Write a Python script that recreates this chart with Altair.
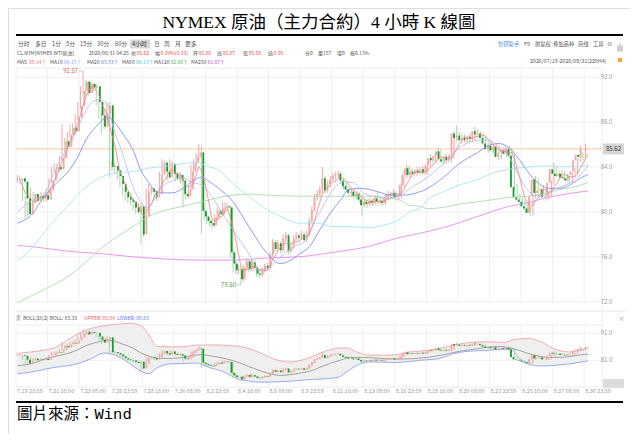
import altair as alt
import pandas as pd

# 4H candles of CL.NYM, 2026/07/19 - 2026/08/31
opens = [
    82.8, 83.0, 82.7, 81.2, 79.8, 80.8, 81.6, 81.0, 81.4, 81.2,
    81.5, 81.1, 81.9, 82.8, 83.7, 84.0, 83.8, 84.8, 86.3, 85.8,
    86.9, 87.5, 87.2, 88.4, 89.4, 90.8, 91.6, 90.6, 91.4, 91.1,
    91.2, 89.8, 88.6, 87.6, 88.8, 89.5, 84.0, 84.1, 83.7, 83.2,
    82.5, 81.8, 81.3, 81.1, 80.9, 80.4, 80.0, 80.5, 78.0, 79.6,
    81.8, 82.1, 81.8, 81.3, 81.6, 83.3, 84.4, 83.6, 83.1, 84.3,
    83.4, 83.0, 83.3, 82.8, 81.6, 81.4, 82.0, 83.6, 84.4, 84.9,
    85.3, 80.1, 79.6, 79.2, 79.0, 78.8, 79.5, 80.1, 79.8, 80.3,
    80.5, 80.4, 76.4, 75.4, 74.8, 74.9, 74.0, 75.0, 75.6, 74.9,
    75.5, 75.0, 74.5, 74.4, 74.8, 75.2, 75.0, 76.2, 77.3, 76.7,
    77.2, 76.6, 77.6, 77.9, 76.5, 76.9, 77.6, 77.9, 77.7, 78.0,
    77.5, 78.0, 79.2, 80.2, 81.3, 81.6, 82.0, 83.0, 81.9, 82.5,
    82.9, 83.2, 83.3, 83.4, 82.8, 82.3, 82.0, 81.7, 81.8, 81.4,
    81.6, 81.1, 80.6, 80.9, 80.7, 81.0, 80.8, 81.2, 80.9, 81.0,
    80.8, 81.3, 81.6, 81.5, 81.7, 81.3, 81.4, 82.4, 83.3, 83.9,
    83.3, 83.6, 83.4, 83.7, 83.5, 83.8, 83.5, 84.2, 84.8, 84.6,
    85.0, 85.4, 84.7, 84.5, 84.9, 84.6, 85.0, 87.0, 86.6, 86.8,
    86.4, 86.6, 86.4, 86.7, 86.5, 87.2, 86.9, 87.0, 86.6, 86.1,
    85.6, 85.9, 85.5, 85.8, 84.9, 85.3, 85.5, 85.2, 85.6, 85.0,
    82.2, 81.3, 81.1, 80.9, 80.5, 80.3, 79.9, 81.4, 82.9, 81.7,
    81.9, 82.0, 81.3, 81.4, 82.6, 83.8, 83.4, 83.2, 83.4, 83.1,
    83.0, 82.8, 83.3, 83.6, 84.6, 85.1, 84.9, 85.60,
]
highs = [
    83.3, 83.2, 82.9, 81.4, 81.0, 82.2, 81.8, 81.6, 81.6, 81.8,
    81.7, 82.1, 83.0, 84.0, 84.3, 84.3, 85.0, 87.8, 86.6, 87.1,
    87.8, 87.9, 88.7, 89.8, 91.2, 92.57, 91.8, 91.7, 91.6, 91.5,
    91.4, 90.0, 88.8, 89.2, 89.8, 89.8, 84.5, 84.4, 84.0, 83.4,
    82.7, 82.0, 81.6, 81.6, 81.2, 80.8, 80.8, 80.8, 79.9, 82.1,
    82.5, 82.3, 82.0, 81.9, 83.6, 84.7, 84.6, 83.8, 84.7, 84.5,
    83.6, 83.6, 83.5, 83.0, 81.9, 82.3, 84.2, 84.7, 85.2, 86.0,
    85.9, 80.4, 79.9, 79.5, 79.3, 79.8, 80.4, 80.3, 80.9, 80.9,
    80.8, 80.6, 76.6, 75.7, 75.3, 75.1, 75.3, 75.9, 75.8, 75.8,
    75.7, 75.2, 74.8, 75.1, 75.4, 75.5, 76.4, 77.6, 77.5, 77.5,
    77.4, 78.0, 78.2, 78.1, 77.3, 77.9, 78.2, 78.1, 78.3, 78.2,
    78.3, 79.5, 80.5, 81.6, 81.9, 82.3, 84.0, 83.2, 82.8, 83.2,
    83.5, 83.6, 83.7, 83.6, 83.0, 82.6, 82.2, 82.1, 82.0, 81.9,
    81.8, 81.6, 81.2, 81.1, 81.3, 81.2, 81.5, 81.8, 81.4, 81.3,
    81.6, 81.9, 81.8, 82.0, 81.9, 81.7, 82.6, 83.6, 84.2, 84.1,
    83.9, 83.8, 84.0, 84.0, 84.1, 84.0, 84.4, 85.1, 85.0, 85.3,
    85.7, 85.6, 85.0, 85.2, 85.1, 85.3, 87.2, 87.7, 87.1, 87.0,
    86.9, 86.8, 87.0, 86.9, 87.6, 87.4, 87.2, 87.1, 86.8, 86.3,
    86.2, 86.0, 86.1, 85.9, 85.5, 85.8, 85.7, 85.9, 85.7, 85.2,
    82.5, 81.6, 81.3, 81.1, 80.7, 80.5, 81.6, 83.2, 83.0, 82.2,
    82.3, 82.1, 81.7, 82.8, 84.4, 84.0, 83.6, 83.7, 83.6, 83.4,
    83.2, 83.5, 83.9, 84.8, 85.9, 85.3, 86.1, 85.67,
]
lows = [
    82.6, 82.5, 81.0, 79.4, 79.6, 80.6, 80.8, 80.8, 80.9, 81.0,
    80.9, 80.9, 81.7, 82.6, 83.5, 83.5, 83.6, 84.6, 85.3, 85.6,
    86.6, 86.9, 87.0, 88.2, 89.2, 90.5, 90.3, 90.4, 90.8, 90.8,
    89.5, 88.3, 87.0, 87.4, 88.5, 83.1, 83.7, 83.4, 82.9, 82.2,
    81.5, 81.0, 80.8, 80.6, 80.1, 79.8, 79.8, 77.1, 77.8, 79.4,
    81.5, 81.5, 81.0, 81.0, 81.4, 83.1, 83.3, 82.8, 82.9, 83.1,
    82.7, 82.8, 82.5, 80.4, 81.1, 81.2, 81.8, 83.4, 84.1, 84.6,
    78.1, 79.3, 78.9, 78.7, 78.5, 78.6, 79.3, 79.5, 79.6, 80.0,
    80.1, 75.9, 74.6, 74.5, 74.4, 73.5, 73.8, 74.8, 74.6, 74.7,
    74.7, 74.2, 74.1, 74.2, 74.6, 74.8, 74.9, 76.0, 76.4, 76.5,
    76.3, 76.4, 77.3, 76.2, 76.3, 76.7, 77.4, 77.4, 77.5, 77.3,
    77.3, 77.8, 79.0, 80.0, 81.0, 81.3, 81.7, 81.6, 81.7, 82.2,
    82.7, 82.9, 83.0, 82.5, 82.0, 81.7, 81.4, 81.4, 81.1, 81.2,
    80.9, 79.7, 80.4, 80.4, 80.5, 80.5, 80.6, 80.7, 80.6, 80.5,
    80.6, 81.1, 81.2, 81.3, 81.1, 81.0, 81.2, 82.2, 83.0, 83.1,
    83.1, 83.2, 83.2, 83.3, 83.3, 83.3, 83.3, 84.0, 84.3, 84.4,
    84.8, 84.4, 84.2, 84.3, 84.4, 84.4, 84.8, 86.3, 86.3, 86.1,
    86.2, 86.1, 86.2, 86.2, 86.3, 86.6, 86.7, 86.4, 85.9, 85.3,
    85.4, 85.2, 85.3, 84.6, 84.7, 85.1, 84.9, 85.0, 84.8, 82.0,
    81.0, 80.8, 80.6, 80.2, 80.0, 79.6, 79.7, 81.2, 81.4, 81.5,
    81.6, 81.0, 81.1, 81.3, 82.4, 83.1, 82.9, 83.0, 82.9, 82.7,
    82.5, 82.6, 83.1, 83.4, 84.4, 84.6, 84.8, 85.56,
]
closes = [
    83.0, 82.7, 81.2, 79.8, 80.8, 81.6, 81.0, 81.4, 81.2, 81.5,
    81.1, 81.9, 82.8, 83.7, 84.0, 83.8, 84.8, 86.3, 85.8, 86.9,
    87.5, 87.2, 88.4, 89.4, 90.8, 91.6, 90.6, 91.4, 91.1, 91.2,
    89.8, 88.6, 87.6, 88.8, 89.5, 84.0, 84.1, 83.7, 83.2, 82.5,
    81.8, 81.3, 81.1, 80.9, 80.4, 80.0, 80.5, 78.0, 79.6, 81.8,
    82.1, 81.8, 81.3, 81.6, 83.3, 84.4, 83.6, 83.1, 84.3, 83.4,
    83.0, 83.3, 82.8, 81.6, 81.4, 82.0, 83.6, 84.4, 84.9, 85.3,
    80.1, 79.6, 79.2, 79.0, 78.8, 79.5, 80.1, 79.8, 80.3, 80.5,
    80.4, 76.4, 75.4, 74.8, 74.9, 74.0, 75.0, 75.6, 74.9, 75.5,
    75.0, 74.5, 74.4, 74.8, 75.2, 75.0, 76.2, 77.3, 76.7, 77.2,
    76.6, 77.6, 77.9, 76.5, 76.9, 77.6, 77.9, 77.7, 78.0, 77.5,
    78.0, 79.2, 80.2, 81.3, 81.6, 82.0, 83.0, 81.9, 82.5, 82.9,
    83.2, 83.3, 83.4, 82.8, 82.3, 82.0, 81.7, 81.8, 81.4, 81.6,
    81.1, 80.6, 80.9, 80.7, 81.0, 80.8, 81.2, 80.9, 81.0, 80.8,
    81.3, 81.6, 81.5, 81.7, 81.3, 81.4, 82.4, 83.3, 83.9, 83.3,
    83.6, 83.4, 83.7, 83.5, 83.8, 83.5, 84.2, 84.8, 84.6, 85.0,
    85.4, 84.7, 84.5, 84.9, 84.6, 85.0, 87.0, 86.6, 86.8, 86.4,
    86.6, 86.4, 86.7, 86.5, 87.2, 86.9, 87.0, 86.6, 86.1, 85.6,
    85.9, 85.5, 85.8, 84.9, 85.3, 85.5, 85.2, 85.6, 85.0, 82.2,
    81.3, 81.1, 80.9, 80.5, 80.3, 79.9, 81.4, 82.9, 81.7, 81.9,
    82.0, 81.3, 81.4, 82.6, 83.8, 83.4, 83.2, 83.4, 83.1, 83.0,
    82.8, 83.3, 83.6, 84.6, 85.1, 84.9, 85.6, 85.62,
]

tick_idx = [0, 12, 24, 36, 48, 60, 72, 84, 96, 108, 120, 132, 144, 156, 168, 180, 192, 204, 216]
tick_labels = ["7.19 23:59", "7.21 16:00", "7.23 08:00", "7.26 23:59", "7.28 16:00",
               "7.30 08:00", "8.2 23:59", "8.4 16:00", "8.6 08:00", "8.9 23:59",
               "8.11 16:00", "8.13 08:00", "8.16 23:59", "8.18 16:00", "8.20 08:00",
               "8.23 23:59", "8.25 16:00", "8.27 08:00", "8.30 23:59"]

# moving averages, sampled along the lines (bar number, value)
ma10_idx = [0, 6, 10, 14, 17, 21, 25, 28, 31, 34, 36, 40, 44, 47, 49, 52, 55, 59, 63, 67,
            70, 73, 76, 82, 88, 92, 96, 100, 105, 109, 112, 116, 120, 124, 128, 131, 135, 141, 145, 150,
            156, 162, 168, 175, 179, 183, 187, 191, 195, 199, 202, 206, 210, 214, 217]
ma10_val = [80.0, 81.1, 81.5, 83.5, 84.9, 86.4, 88.5, 89.7, 90.0, 89.7, 87.9, 85.2, 82.2, 80.9, 80.4, 81.1, 82.2, 82.8, 83.0, 82.6,
            82.4, 81.7, 80.6, 78.4, 76.3, 74.8, 75.1, 76.0, 76.9, 77.3, 78.7, 80.4, 82.0, 82.7, 82.6, 81.8, 81.4, 81.2, 81.4, 82.2,
            83.1, 84.3, 85.7, 86.4, 86.4, 85.8, 84.9, 83.1, 81.7, 81.4, 81.8, 82.2, 82.6, 83.3, 84.15]
ma20_idx = [0, 6, 10, 15, 19, 23, 26, 30, 33, 35, 37, 40, 44, 47, 50, 53, 55, 59, 63, 67,
            70, 73, 76, 82, 88, 95, 100, 104, 107, 111, 115, 119, 123, 126, 131, 137, 142, 147, 153, 156,
            162, 168, 175, 180, 183, 187, 191, 195, 199, 202, 206, 210, 214, 217]
ma20_val = [79.0, 79.9, 81.3, 82.6, 83.5, 84.9, 86.4, 87.6, 88.3, 88.4, 88.0, 87.0, 85.5, 83.7, 82.6, 81.8, 81.7, 81.7, 82.1, 82.8,
            83.1, 82.7, 82.2, 80.9, 78.7, 76.3, 75.4, 75.7, 76.2, 76.9, 78.4, 79.9, 81.1, 82.0, 82.1, 81.8, 81.5, 81.5, 81.8, 82.1,
            83.1, 84.3, 85.3, 86.0, 86.1, 85.7, 84.6, 83.3, 82.4, 82.1, 82.1, 82.4, 83.0, 83.33]
ma60_idx = [0, 6, 12, 19, 25, 31, 38, 44, 50, 57, 63, 68, 73, 76, 82, 88, 95, 101, 107, 114,
            120, 126, 133, 139, 145, 149, 153, 156, 162, 168, 175, 181, 187, 194, 200, 206, 217]
ma60_val = [75.6, 76.9, 78.7, 80.5, 82.0, 83.0, 83.5, 83.6, 83.9, 84.1, 84.3, 84.4, 84.0, 83.8, 82.5, 81.4, 80.2, 79.5, 79.0, 79.0,
            78.7, 78.7, 78.6, 78.8, 79.3, 80.0, 80.3, 81.1, 81.8, 82.4, 82.9, 83.5, 83.8, 84.0, 84.1, 84.05, 84.13]
ma120_idx = [0, 6, 12, 19, 25, 31, 38, 44, 50, 57, 63, 70, 77, 82, 88, 95, 107, 120, 133, 145,
             149, 153, 156, 162, 168, 175, 181, 187, 194, 200, 206, 213, 217]
ma120_val = [71.9, 72.6, 73.3, 74.2, 75.3, 76.6, 77.8, 78.7, 79.6, 80.2, 80.5, 80.9, 81.3, 81.5, 81.6, 81.5, 81.4, 81.4, 81.4, 81.1,
             80.6, 80.5, 80.3, 80.4, 80.7, 80.9, 81.1, 81.3, 81.4, 81.6, 82.0, 82.3, 82.66]
ma250_idx = [0, 6, 19, 31, 44, 57, 70, 82, 95, 107, 120, 133, 145, 153, 162, 175, 187, 194, 200, 206, 217]
ma250_val = [77.0, 76.9, 76.5, 76.3, 76.0, 75.8, 75.7, 75.7, 75.9, 76.0, 76.4, 76.9, 77.7, 78.1, 78.6, 79.6, 80.5, 80.8, 81.2, 81.5, 81.87]

# BOLL(20,2) bands, sampled along the lines
boll_idx = [0, 5, 10, 15, 20, 24, 28, 33, 38, 43, 47, 50, 53, 58, 63, 68, 73, 78, 84, 88,
            93, 99, 104, 110, 116, 122, 125, 129, 134, 139, 144, 149, 153, 160, 166, 172, 179, 185, 188, 190,
            194, 199, 204, 210, 214, 217]
boll_upper = [83.5, 84.1, 84.7, 86.0, 89.1, 91.3, 92.8, 93.8, 94.3, 94.7, 93.8, 90.5, 86.2, 86.0, 86.0, 86.6, 86.7, 86.6, 86.2, 85.3,
              83.5, 81.0, 80.4, 81.6, 84.0, 85.5, 85.6, 84.1, 82.9, 82.9, 83.1, 84.1, 84.4, 85.3, 86.6, 87.6, 87.9, 87.6, 88.5, 88.8,
              89.1, 87.9, 85.3, 84.1, 84.7, 85.84]
boll_lower = [76.0, 76.6, 77.6, 78.5, 79.1, 80.1, 81.6, 83.7, 82.6, 79.6, 76.9, 76.0, 78.1, 79.7, 79.8, 80.0, 78.3, 76.9, 74.0, 73.3,
              72.9, 73.0, 73.3, 73.8, 74.1, 74.7, 76.6, 79.1, 80.4, 80.3, 80.2, 80.6, 81.0, 81.6, 83.5, 84.4, 84.7, 85.1, 85.0, 82.5,
              79.7, 78.9, 79.1, 79.7, 80.3, 80.83]

price_ticks = [92.0, 88.0, 84.0, 80.0, 76.0, 72.0]
boll_ticks = [91.0, 81.0]
last_price = 85.62
high_bar, high_price = 25, 92.57
low_bar, low_price = 85, 73.50

# ---------------- layout (page pixels, minus the 8px body margin) ----------------
M = 8
W, H = 637 - 2 * M, 442 - 2 * M
UI = "Noto Sans CJK SC"
GREY, LIGHT, RED = "#555555", "#9a9a9a", "#e8483f"
UP_BODY, UP_WICK = "#f5a6a6", "#ef8f8f"
DN_BODY, DN_WICK = "#17992b", "#8fd18f"

ys = alt.Scale(domain=[72, 92], range=[301.7 - M, 77.3 - M], nice=False, zero=False)
yb = alt.Scale(domain=[81, 91], range=[360.3 - M, 333.3 - M], nice=False, zero=False)


def xscale():
    return alt.Scale(domain=[0, 222], range=[16 - M, 600 - M], nice=False, zero=False)


one = pd.DataFrame({"a": [0]})

candles = pd.DataFrame({"i": range(len(closes)), "open": opens, "high": highs,
                        "low": lows, "close": closes})
candles["xc"] = candles["i"] + 0.5

ma_df = pd.concat([
    pd.DataFrame({"idx": ma250_idx, "val": ma250_val, "ma": "MA250"}),
    pd.DataFrame({"idx": ma120_idx, "val": ma120_val, "ma": "MA120"}),
    pd.DataFrame({"idx": ma60_idx, "val": ma60_val, "ma": "MA60"}),
    pd.DataFrame({"idx": ma20_idx, "val": ma20_val, "ma": "MA20"}),
    pd.DataFrame({"idx": ma10_idx, "val": ma10_val, "ma": "MA10"}),
])
ma_df["xc"] = ma_df["idx"] + 0.5
mid_df = pd.DataFrame({"xc": [v + 0.5 for v in ma20_idx], "val": ma20_val})
boll_df = pd.DataFrame({"xc": [v + 0.5 for v in boll_idx], "up": boll_upper, "lo": boll_lower})
ticks_df = pd.DataFrame({"idx": tick_idx, "lab": tick_labels})


def rule(x1, x2, y1, y2, color, w=1.0):
    return alt.Chart(one).mark_rule(color=color, strokeWidth=w).encode(
        x=alt.value(x1 - M), x2=alt.value(x2 - M), y=alt.value(y1 - M), y2=alt.value(y2 - M))


def box(x1, x2, y1, y2, color):
    return alt.Chart(one).mark_rect(color=color).encode(
        x=alt.value(x1 - M), x2=alt.value(x2 - M), y=alt.value(y1 - M), y2=alt.value(y2 - M))


def candle_layers(yscale):
    up = alt.datum.close >= alt.datum.open
    base = alt.Chart(candles).encode(x=alt.X("xc:Q", scale=xscale(), axis=None))
    wick = base.mark_rule(strokeWidth=0.8).encode(
        y=alt.Y("low:Q", scale=yscale, axis=None), y2="high:Q",
        color=alt.when(up).then(alt.value(UP_WICK)).otherwise(alt.value(DN_WICK)))
    body = base.mark_bar(width=1.8, orient="vertical").encode(
        y=alt.Y("open:Q", scale=yscale, axis=None), y2="close:Q",
        color=alt.when(up).then(alt.value(UP_BODY)).otherwise(alt.value(DN_BODY)))
    return [wick, body]


layers = []

# frames and grid
layers += [
    rule(16, 602, 68, 68, "#ececec"),
    rule(602, 602, 68, 387, "#ececec"),
    rule(16, 625, 311, 311, "#e4e4e4"),
    rule(16, 602, 325, 325, "#ececec"),
    rule(16, 602, 387, 387, "#ececec"),
]
layers.append(alt.Chart(pd.DataFrame({"p": price_ticks})).mark_rule(color="#efefef").encode(
    y=alt.Y("p:Q", scale=ys, axis=None), x=alt.value(16 - M), x2=alt.value(602 - M)))
layers.append(alt.Chart(pd.DataFrame({"p": boll_ticks})).mark_rule(color="#efefef").encode(
    y=alt.Y("p:Q", scale=yb, axis=None), x=alt.value(16 - M), x2=alt.value(602 - M)))
layers.append(alt.Chart(ticks_df).mark_rule(color="#efefef").encode(
    x=alt.X("idx:Q", scale=xscale(), axis=None), y=alt.value(68 - M), y2=alt.value(303 - M)))
layers.append(alt.Chart(ticks_df).mark_rule(color="#efefef").encode(
    x=alt.X("idx:Q", scale=xscale(), axis=None), y=alt.value(325 - M), y2=alt.value(387 - M)))

# current price line
layers.append(alt.Chart(pd.DataFrame({"p": [last_price]})).mark_rule(color="#f7c9a5").encode(
    y=alt.Y("p:Q", scale=ys, axis=None), x=alt.value(16 - M), x2=alt.value(602 - M)))

# main panel: candles then moving averages
layers += candle_layers(ys)
layers.append(alt.Chart(ma_df).mark_line(interpolate="monotone", strokeWidth=0.9).encode(
    x=alt.X("xc:Q", scale=xscale(), axis=None),
    y=alt.Y("val:Q", scale=ys, axis=None),
    color=alt.Color("ma:N", legend=None, scale=alt.Scale(
        domain=["MA250", "MA120", "MA60", "MA20", "MA10"],
        range=["#e48cf1", "#a9dea9", "#a3e6f1", "#8191f2", "#b5c1f4"]))))
layers.append(alt.Chart(candles).transform_window(
    ma5="mean(close)", frame=[-4, 0], sort=[alt.SortField("i")]
).mark_line(color="#f08282", strokeWidth=0.8).encode(
    x=alt.X("xc:Q", scale=xscale(), axis=None), y=alt.Y("ma5:Q", scale=ys, axis=None)))

# high / low markers
ext = pd.DataFrame({"xc": [high_bar + 0.5, low_bar + 0.5], "v": [high_price, low_price],
                    "t": [f"{high_price:.2f}", f"{low_price:.2f}"], "c": ["#e05a5a", "#3f9a3f"]})
ext["xl"] = ext["xc"] - 1.5
layers.append(alt.Chart(ext).mark_rule(color="#b8c6dc", strokeWidth=0.8).encode(
    x=alt.X("xl:Q", scale=xscale(), axis=None), x2="xc:Q", y=alt.Y("v:Q", scale=ys, axis=None)))
layers.append(alt.Chart(ext).mark_text(align="right", baseline="middle", dx=-1, fontSize=6, font=UI).encode(
    x=alt.X("xl:Q", scale=xscale(), axis=None), y=alt.Y("v:Q", scale=ys, axis=None),
    text="t:N", color=alt.Color("c:N", scale=None)))

# BOLL panel
layers.append(alt.Chart(boll_df).mark_area(interpolate="monotone", color="#efefef").encode(
    x=alt.X("xc:Q", scale=xscale(), axis=None), y=alt.Y("lo:Q", scale=yb, axis=None), y2="up:Q"))
layers.append(alt.Chart(boll_df).mark_line(interpolate="monotone", color="#f2a3a3", strokeWidth=0.9).encode(
    x=alt.X("xc:Q", scale=xscale(), axis=None), y=alt.Y("up:Q", scale=yb, axis=None)))
layers.append(alt.Chart(boll_df).mark_line(interpolate="monotone", color="#8ea0f4", strokeWidth=0.9).encode(
    x=alt.X("xc:Q", scale=xscale(), axis=None), y=alt.Y("lo:Q", scale=yb, axis=None)))
layers.append(alt.Chart(mid_df).mark_line(interpolate="monotone", color="#9a9a9a", strokeWidth=0.9).encode(
    x=alt.X("xc:Q", scale=xscale(), axis=None), y=alt.Y("val:Q", scale=yb, axis=None)))
layers += candle_layers(yb)

# axis labels
layers.append(alt.Chart(pd.DataFrame({"p": price_ticks})).mark_text(
    fontSize=6, font=UI, color=LIGHT, align="center", baseline="middle").encode(
    y=alt.Y("p:Q", scale=ys, axis=None), x=alt.value(606.5 - M), text=alt.Text("p:Q", format=".1f")))
layers.append(alt.Chart(pd.DataFrame({"p": boll_ticks})).mark_text(
    fontSize=6, font=UI, color=LIGHT, align="center", baseline="middle").encode(
    y=alt.Y("p:Q", scale=yb, axis=None), x=alt.value(606.5 - M), text=alt.Text("p:Q", format=".1f")))
layers.append(alt.Chart(ticks_df).mark_text(
    fontSize=5.5, font=UI, color=LIGHT, align="left", baseline="middle", dx=1).encode(
    x=alt.X("idx:Q", scale=xscale(), axis=None), y=alt.value(391 - M), text="lab:N"))

# last price tag
tag = pd.DataFrame({"p": [last_price], "t": [f"{last_price:.2f}"]})
layers.append(alt.Chart(tag).mark_tick(color="#d5d5d5", thickness=11, size=21, orient="horizontal", opacity=1).encode(
    y=alt.Y("p:Q", scale=ys, axis=None), x=alt.value(613.5 - M)))
layers.append(alt.Chart(tag).mark_text(fontSize=6, font=UI, color="#333333", align="center", baseline="middle").encode(
    y=alt.Y("p:Q", scale=ys, axis=None), x=alt.value(613.5 - M), text="t:N"))
layers.append(box(603, 624, 379, 388, "#dcdcdc"))

# toolbar decorations
layers += [
    box(130, 150, 39.5, 48.5, "#d6d6d6"),
    box(617, 623, 45.5, 51.5, "#cfcfcf"),
    box(618, 622, 58, 62, "#f0a92e"),
    box(16, 21, 315, 321, "#e6e6e6"),
]

# screenshot texts: text, x, y, colour, size
ui_rows = [
    ("分时", 18, 44, GREY, 5.8), ("多日", 35, 44, GREY, 5.8), ("1分", 52, 44, GREY, 5.8),
    ("5分", 66, 44, GREY, 5.8), ("15分", 80, 44, GREY, 5.8), ("30分", 97, 44, GREY, 5.8),
    ("60分", 115, 44, GREY, 5.8), ("4小时", 132, 44, "#333333", 5.8), ("日", 154, 44, GREY, 5.8),
    ("周", 164, 44, GREY, 5.8), ("月", 175, 44, GREY, 5.8), ("更多", 185, 44, GREY, 5.8),
    ("智研助手", 498, 44, "#4a8fd6", 5.3), ("F9", 524, 44, GREY, 5.3), ("前复权", 535, 44, GREY, 5.3),
    ("叠加品种", 553, 44, GREY, 5.3), ("画线", 578, 44, GREY, 5.3), ("工具", 593, 44, GREY, 5.3),
    ("⚙", 607, 44, LIGHT, 6), ("›", 619, 44, LIGHT, 7),
    ("CL.NYM[NYMEX WTI原油]", 17, 53, GREY, 5.0), ("2026/08/31 04:25", 89, 53, GREY, 5.0),
    ("收", 131, 53, GREY, 5.0), ("85.62", 136.5, 53, RED, 5.0),
    ("幅", 155, 53, GREY, 5.0), ("0.39%(0.33)", 160.5, 53, RED, 5.0),
    ("开", 193, 53, GREY, 5.0), ("85.60", 198.5, 53, RED, 5.0),
    ("高", 217, 53, GREY, 5.0), ("85.67", 222.5, 53, RED, 5.0),
    ("低", 243, 53, GREY, 5.0), ("85.56", 248.5, 53, RED, 5.0),
    ("结", 268, 53, GREY, 5.0), ("0.00", 273.5, 53, RED, 5.0),
    ("仓0", 305, 53, GREY, 5.0), ("量157", 318, 53, GREY, 5.0),
    ("增0", 337, 53, GREY, 5.0), ("振0.13%", 350, 53, GREY, 5.0),
    ("MA5", 17, 62, GREY, 5.0), ("85.14↑", 29, 62, "#f06a6a", 5.0),
    ("MA10", 50, 62, GREY, 5.0), ("84.15↑", 64, 62, "#8a9cf0", 5.0),
    ("MA20", 87, 62, GREY, 5.0), ("83.33↑", 101, 62, "#5a6ff0", 5.0),
    ("MA60", 122, 62, GREY, 5.0), ("84.13↑", 136, 62, "#38c0e0", 5.0),
    ("MA120", 154, 62, GREY, 5.0), ("82.66↑", 170.5, 62, "#52b852", 5.0),
    ("MA250", 191, 62, GREY, 5.0), ("81.87↑", 207.5, 62, "#cc4ce0", 5.0),
    ("2026/07/19-2026/08/31(220H4)", 530, 61, GREY, 5.3),
    ("?", 17, 318, GREY, 5.5), ("BOLL(20,2) BOLL: 83.33", 23, 318, GREY, 5.0),
    ("UPPER: 85.84", 84, 318, "#f06060", 5.0), ("LOWER: 80.83", 117, 318, "#5a78f0", 5.0),
    ("×", 618, 319, LIGHT, 7),
]
ui_df = pd.DataFrame(ui_rows, columns=["t", "x", "y", "c", "s"])
ui_df["x"] = ui_df["x"] - M
ui_df["y"] = ui_df["y"] - M
layers.append(alt.Chart(ui_df).mark_text(font=UI, align="left", baseline="middle").encode(
    x=alt.X("x:Q", scale=None, axis=None), y=alt.Y("y:Q", scale=None, axis=None),
    text="t:N", color=alt.Color("c:N", scale=None), size=alt.Size("s:Q", scale=None)))

# article title and source
layers.append(alt.Chart(one).mark_text(
    text="NYMEX 原油（主力合約）4 小時 K 線圖", font="Liberation Serif, Noto Sans CJK TC",
    fontSize=17.5, color="#000000", align="center", baseline="middle").encode(
    x=alt.value(319 - M), y=alt.value(22.5 - M)))
layers.append(rule(16, 623, 35, 35, "#000000", 1.8))
layers.append(rule(16, 623, 402, 402, "#000000", 1.8))
layers.append(alt.Chart(one).mark_text(
    text="圖片來源：Wind", font="Liberation Mono, Noto Sans CJK TC",
    fontSize=15.5, color="#000000", align="left", baseline="alphabetic").encode(
    x=alt.value(17 - M), y=alt.value(419 - M)))

chart = alt.layer(*layers).resolve_scale(
    x="independent", y="independent", color="independent", size="independent"
).properties(
    width=W, height=H, padding=0, autosize=alt.AutoSizeParams(type="none")
).configure_view(stroke=None).configure(background="white")

chart.save("out.html", embed_options={"renderer": "svg", "actions": False})
